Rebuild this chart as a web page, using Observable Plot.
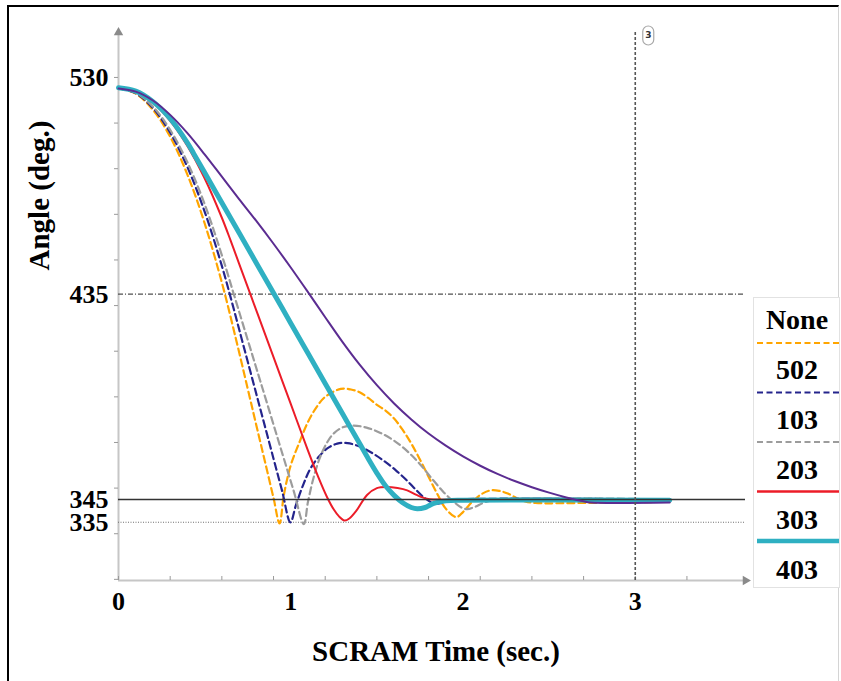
<!DOCTYPE html>
<html><head><meta charset="utf-8">
<script src="https://cdn.jsdelivr.net/npm/d3@7"></script>
<script src="https://cdn.jsdelivr.net/npm/@observablehq/plot@0.6"></script>
<style>
html,body{margin:0;padding:0;background:#fff;overflow:hidden;}
#wrap{position:relative;width:841px;height:681px;overflow:hidden;font-family:"Liberation Serif","Times New Roman",serif;}
#chart{position:absolute;left:0;top:0;}
#border{position:absolute;left:7px;top:5px;width:829px;height:700px;border-top:2px solid #000;border-left:2px solid #000;border-right:1px solid #d4d4d4;pointer-events:none;}
#legend{position:absolute;left:753px;top:297px;width:85px;height:289px;background:#fff;border:1px solid #e2e2e2;}
</style></head>
<body>
<div id="wrap"><div id="chart"></div><div id="border"></div><div id="legend"></div></div>
<script>
// ---- data ----
const seriesNames = ["None", "502", "103", "203", "303", "403"];

const tNone = [0, 0.1, 0.2, 0.3, 0.4, 0.5, 0.6, 0.674, 0.75, 0.8, 0.85, 0.9, 0.935, 0.96, 1.0, 1.05, 1.1, 1.15, 1.2, 1.29, 1.35, 1.4, 1.45, 1.5, 1.55, 1.6, 1.65, 1.7, 1.75, 1.8, 1.85, 1.9, 1.96, 2.0, 2.06, 2.11, 2.16, 2.21, 2.26, 2.31, 2.36, 2.42, 2.7, 3.2];
const vNone = [525.2, 522.9, 515.8, 504, 487.4, 466.1, 440.1, 417.8, 393.6, 377.6, 361.7, 345.7, 334.5, 347, 360, 370, 379, 385.5, 390, 393.5, 393.2, 392, 389.5, 386.5, 384, 380.5, 375.5, 369.5, 362.5, 355, 347.5, 341, 337.3, 339.5, 344.5, 347.5, 349, 348.8, 347.6, 345.7, 344.2, 343.5, 343.5, 344];

const t502 = [0, 0.1, 0.2, 0.3, 0.4, 0.5, 0.6, 0.656, 0.7, 0.8, 0.9, 0.95, 0.998, 1.03, 1.07, 1.114, 1.16, 1.21, 1.27, 1.33, 1.4, 1.47, 1.54, 1.61, 1.676, 1.73, 1.78, 1.83, 1.87, 1.91, 1.96, 3.2];
const v502 = [525.2, 523.1, 516.6, 505.8, 490.7, 471.2, 447.4, 432.2, 419.7, 391.3, 362.9, 348.7, 335, 342.5, 351, 358.5, 363.5, 367.3, 369.5, 369.7, 368.2, 365.5, 362, 357.8, 353.2, 349, 345.5, 343.3, 343.4, 344.4, 345, 345];

const t103 = [0, 0.1, 0.2, 0.3, 0.4, 0.5, 0.611, 0.669, 0.75, 0.824, 0.921, 1.017, 1.076, 1.1, 1.134, 1.17, 1.211, 1.25, 1.3, 1.366, 1.44, 1.521, 1.6, 1.676, 1.75, 1.83, 1.89, 1.946, 1.99, 2.024, 2.07, 2.12, 2.2, 3.2];
const v103 = [525.2, 523.3, 517.2, 507, 492.8, 474.5, 449.5, 435.1, 415, 396.7, 372.6, 348.8, 334.2, 344, 355, 363.5, 370, 374, 376.6, 377.4, 376.5, 374.2, 370.8, 366.2, 360.5, 353.2, 348, 344, 341.5, 340.8, 341.8, 343.6, 345, 345];

const t203 = [0, 0.1, 0.2, 0.3, 0.4, 0.5, 0.6, 0.65, 0.7, 0.8, 0.9, 1.0, 1.1, 1.16, 1.211, 1.25, 1.28, 1.312, 1.34, 1.38, 1.443, 1.5, 1.56, 1.62, 1.676, 1.73, 1.79, 1.85, 3.2];
const v203 = [525.2, 523.6, 518.9, 511, 500, 485.8, 468.5, 458.7, 448.4, 427.9, 407.4, 386.9, 366.4, 354.8, 346, 340.6, 337.6, 335.8, 336.7, 340, 347, 350, 350.5, 350, 349, 347, 345.3, 345, 345];

const t303 = [0, 0.1, 0.2, 0.3, 0.4, 0.436, 0.5, 0.6, 0.7, 0.8, 0.9, 1.0, 1.1, 1.2, 1.3, 1.4, 1.45, 1.5, 1.55, 1.6, 1.65, 1.7, 1.734, 1.78, 1.83, 1.9, 2.0, 3.2];
const v303 = [525.5, 524, 519.4, 511.9, 501.3, 496.7, 488.3, 475.1, 461.9, 448.7, 435.5, 422.3, 409.1, 395.9, 382.7, 369.5, 362.9, 356.6, 351, 346.8, 343.6, 341.5, 340.9, 341.5, 343.3, 344.4, 344.7, 344.7];

const t403 = [0, 0.1, 0.2, 0.3, 0.4, 0.5, 0.6, 0.7, 0.8, 0.9, 1.0, 1.1, 1.2, 1.3, 1.4, 1.5, 1.6, 1.7, 1.8, 1.9, 2.0, 2.1, 2.2, 2.3, 2.4, 2.5, 2.6, 2.7, 2.74, 3.2];
const v403 = [525.2, 523.8, 519.9, 513.6, 505.6, 496.3, 486.5, 476.7, 467.1, 457.1, 446.7, 435.9, 424.9, 414.1, 404.1, 395.1, 387.1, 380.1, 373.9, 368.6, 363.9, 359.8, 356.2, 353.1, 350.4, 348, 345.9, 344.2, 343.7, 343.7];

const yTickLabels = [530, 435, 345, 335];
const xTickLabels = [0, 1, 2, 3];
const yMinorTicks = [310, 330, 350, 370, 390, 410, 430, 450, 470, 490, 510, 530];
const xMinorTicks = [0, 0.3, 0.6, 0.9, 1.2, 1.5, 1.8, 2.1, 2.4, 2.7, 3.0, 3.3];
const refLevels = [435, 345, 335];
const refTime = [3];
const xDomain = [0, 3.64];
const yDomain = [309.5, 549.7];

// ---- styles ----
const colors = ["#FFA500", "#24248C", "#9C9C9C", "#EC1C28", "#2FB0C2", "#5B2C91"];
const dashes = ["7,4", "7,4", "7,4", null, null, null];
const widths = [2.2, 2.2, 2.2, 2, 5, 2];
const FONT = "'Liberation Serif','Times New Roman',serif";

const times = [tNone, t502, t103, t203, t303, t403];
const values = [vNone, v502, v103, v203, v303, v403];
const rows = seriesNames.flatMap((n, i) => times[i].map((t, j) => ({series: n, t, v: values[i][j]})));

function seriesLine(i) {
  const o = {x: "t", y: "v", stroke: colors[i], strokeWidth: widths[i], curve: "catmull-rom"};
  if (dashes[i]) o.strokeDasharray = dashes[i];
  return Plot.line(rows.filter(r => r.series === seriesNames[i]), o);
}

// pill-shaped marker for the "3" callout
const pill = {draw(ctx) { const r = 5.5, h = 4; ctx.moveTo(-r, -h); ctx.arc(0, -h, r, Math.PI, 0); ctx.lineTo(r, h); ctx.arc(0, h, r, 0, Math.PI); ctx.closePath(); }};

const chart = Plot.plot({
  width: 841, height: 681,
  marginLeft: 118, marginRight: 96, marginTop: 32, marginBottom: 101,
  x: {domain: xDomain},
  y: {domain: yDomain},
  style: {fontFamily: FONT, fontWeight: "bold", color: "#000", background: "transparent", overflow: "visible"},
  marks: [
    Plot.ruleX([xDomain[0]], {stroke: "#c6c6c6", strokeWidth: 2}),
    Plot.ruleY([yDomain[0]], {stroke: "#c6c6c6", strokeWidth: 2}),
    Plot.dot([xDomain[0]], {x: d => d, frameAnchor: "top", symbol: "triangle", r: 3.5, fill: "#8a8a8a", stroke: null}),
    Plot.dot([yDomain[0]], {y: d => d, frameAnchor: "right", symbol: "triangle", rotate: 90, r: 3.5, fill: "#8a8a8a", stroke: null}),
    Plot.axisY(yMinorTicks, {tickSize: 4, tickFormat: () => "", stroke: "#9a9a9a", label: null}),
    Plot.axisX(xMinorTicks, {anchor: "bottom", tickSize: 4, tickFormat: () => "", stroke: "#9a9a9a", label: null, dy: -4}),
    Plot.axisY(yTickLabels, {tickSize: 0, tickPadding: 10, tickFormat: d => String(d), fontSize: 26, fontWeight: "bold", fontFamily: FONT, label: null}),
    Plot.axisX(xTickLabels, {anchor: "bottom", tickSize: 0, tickPadding: 11, tickFormat: d => String(d), fontSize: 26, fontWeight: "bold", fontFamily: FONT, label: null}),
    Plot.ruleY([refLevels[0]], {stroke: "#505050", strokeWidth: 1.2, strokeDasharray: "5,2,1,2"}),
    Plot.ruleY([refLevels[2]], {stroke: "#707070", strokeWidth: 1.1, strokeDasharray: "1,1.5"}),
    seriesLine(0), seriesLine(1), seriesLine(2), seriesLine(3), seriesLine(4),
    Plot.ruleY([refLevels[1]], {stroke: "#333", strokeWidth: 1.6}),
    seriesLine(5),
    Plot.ruleX(refTime, {stroke: "#555", strokeWidth: 1.6, strokeDasharray: "3,2"}),
    Plot.dot(refTime, {x: d => d, frameAnchor: "top", dx: 13, dy: 3, symbol: pill, r: 6, fill: "#fff", stroke: "#a8a8a8", strokeWidth: 1.2}),
    Plot.text(refTime, {x: d => d, frameAnchor: "top", lineAnchor: "middle", dx: 13, dy: 3, text: d => String(d), fontSize: 9, fontWeight: "bold", fontFamily: "DejaVu Sans", fill: "#333"}),
    Plot.text(["Angle (deg.)"], {frameAnchor: "left", dx: -79, dy: -36, rotate: -90, fontSize: 29, fontWeight: "bold", fontFamily: FONT, fill: "#000"}),
    Plot.text(["SCRAM Time (sec.)"], {frameAnchor: "bottom", dx: 4, dy: 80, fontSize: 29, fontWeight: "bold", fontFamily: FONT, fill: "#000"})
  ]
});
document.getElementById("chart").appendChild(chart);

// ---- legend (label followed by its line sample, as in the reference) ----
const lg = d3.select("#legend").append("svg").attr("width", 85).attr("height", 289)
  .style("position", "absolute").style("left", "0px").style("top", "0px");
seriesNames.forEach((n, i) => {
  const cy = 21 + i * 50;
  lg.append("text").attr("x", 43).attr("y", cy).attr("dy", "0.34em")
    .attr("text-anchor", "middle").attr("font-family", FONT).attr("font-weight", "bold")
    .attr("font-size", 28).attr("fill", "#000").text(n);
  if (i < seriesNames.length - 1) {
    const ly = 45 + i * 49.5;
    const l = lg.append("line").attr("x1", 3).attr("x2", 85).attr("y1", ly).attr("y2", ly)
      .attr("stroke", colors[i]).attr("stroke-width", i === 4 ? 4.5 : (dashes[i] ? 2.2 : 2.5));
    if (dashes[i]) l.attr("stroke-dasharray", "6,3.5");
  }
});
</script>
</body></html>
